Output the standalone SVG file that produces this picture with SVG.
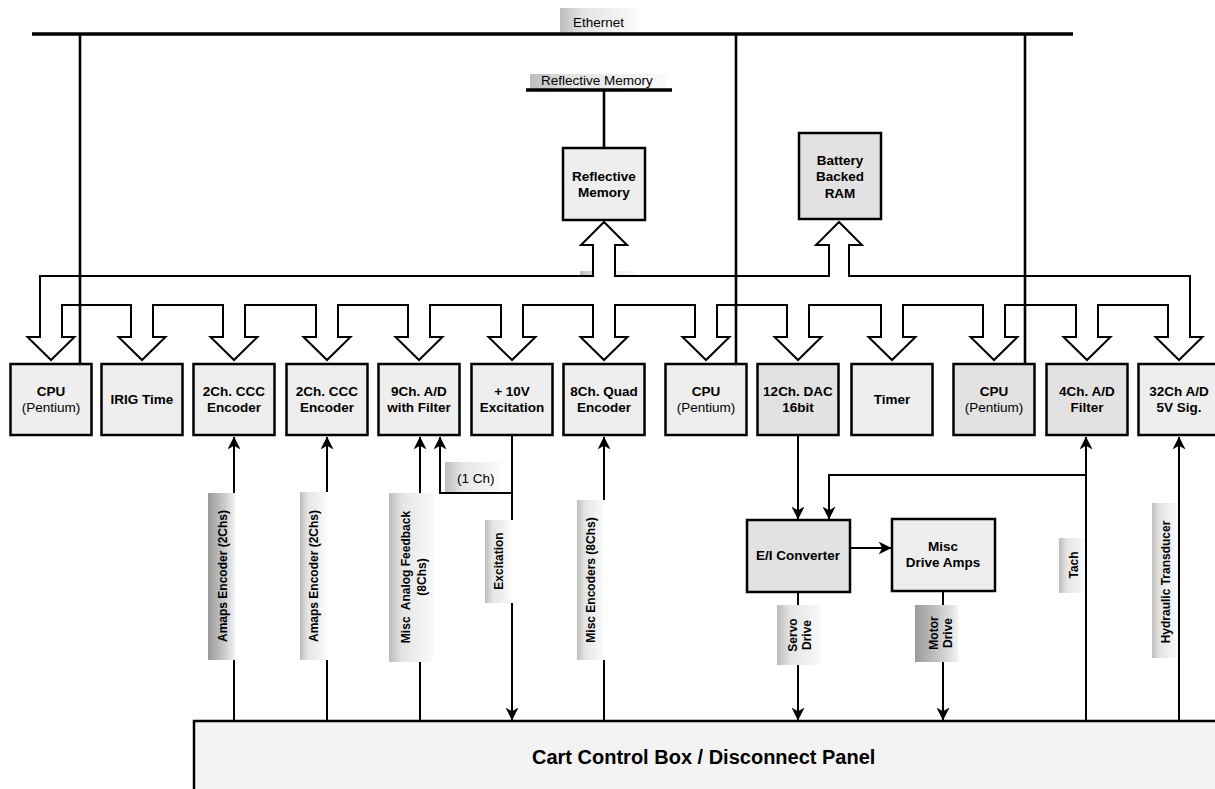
<svg xmlns="http://www.w3.org/2000/svg" width="1215" height="789" viewBox="0 0 1215 789">
<style>
text{font-family:"Liberation Sans",Arial,Helvetica,sans-serif;fill:#000}
.bt{font-size:13.5px;font-weight:bold;text-anchor:middle}
.rt{font-size:13.5px;text-anchor:middle}
.lt{font-size:12px;font-weight:bold;text-anchor:middle}
.nt{font-size:13.5px}
.box{fill:#eeeeee;stroke:#000;stroke-width:2.5}
.boxd{fill:#e2e2e2;stroke:#000;stroke-width:2.5}
.bus{fill:#fff;stroke:#000;stroke-width:2;stroke-linejoin:miter}
.net{stroke:#000;stroke-width:3.5;fill:none}
.drop{stroke:#000;stroke-width:2.6;fill:none}
.ln{stroke:#000;stroke-width:2;fill:none}
.arr{stroke:#000;stroke-width:2;fill:none;marker-end:url(#ah)}
.lab{fill:url(#gl);stroke:none}
.labd{fill:url(#gd);stroke:none}
</style>
<defs>
<marker id="ah" markerUnits="userSpaceOnUse" markerWidth="13" markerHeight="13" viewBox="0 0 12 12" refX="11.5" refY="6" orient="auto">
<path d="M0,0 L12,6 L0,12 L3.5,6 z" fill="#000"/>
</marker>
<linearGradient id="gl" x1="0" y1="0" x2="1" y2="0">
<stop offset="0" stop-color="#bdbdbd"/>
<stop offset="0.3" stop-color="#e4e4e4"/>
<stop offset="1" stop-color="#fafafa"/>
</linearGradient>
<linearGradient id="gd" x1="0" y1="0" x2="1" y2="0">
<stop offset="0" stop-color="#9a9a9a"/>
<stop offset="0.55" stop-color="#c6c6c6"/>
<stop offset="1" stop-color="#f2f2f2"/>
</linearGradient>
</defs>
<rect width="1215" height="789" fill="#fff"/>

<!-- bus labels -->
<g id="ethernet-label">
<rect class="lab" x="560" y="8" width="77" height="24"/>
<text class="nt" x="573" y="27">Ethernet</text>
</g>
<g id="reflective-bus-label">
<rect class="lab" x="530" y="74" width="137" height="15"/>
<text class="nt" x="541" y="85">Reflective Memory</text>
</g>
<g id="vme-label">
<rect class="lab" x="580" y="271" width="55" height="29"/>
<text class="nt" x="593" y="292">VME</text>
</g>

<!-- Ethernet, reflective memory bus, VME bus -->
<g id="buses">
<line class="net" x1="32" y1="34" x2="1073" y2="34"/>
<line class="net" x1="526" y1="90" x2="672" y2="90"/>
<path class="bus" d="M40,337 V276 H593 V245 H581 L604,222 L627,245 H615 V276 H829 V245 H816 L839,222 L862,245 H849 V276 H1190 V337 H1202.5 L1179,360 L1155.5,337 H1168 V305 H1098 V337 H1110.5 L1087,360 L1063.5,337 H1076 V305 H1005 V337 H1017.5 L994,360 L970.5,337 H983 V305 H903 V337 H915.5 L892,360 L868.5,337 H881 V305 H809 V337 H821.5 L798,360 L774.5,337 H787 V305 H717 V337 H729.5 L706,360 L682.5,337 H695 V305 H615 V337 H627.5 L604,360 L580.5,337 H593 V305 H523 V337 H535.5 L512,360 L488.5,337 H501 V305 H430 V337 H442.5 L419,360 L395.5,337 H408 V305 H338 V337 H350.5 L327,360 L303.5,337 H316 V305 H245 V337 H257.5 L234,360 L210.5,337 H223 V305 H153 V337 H165.5 L142,360 L118.5,337 H131 V305 H62 V337 H74.5 L51,360 L27.5,337 H40 Z"/>
</g>

<g id="connectors">
<line class="drop" x1="80" y1="34" x2="80" y2="364"/>
<line class="drop" x1="736" y1="34" x2="736" y2="364"/>
<line class="drop" x1="1025" y1="34" x2="1025" y2="364"/>
<line class="drop" x1="604" y1="90" x2="604" y2="148"/>
<!-- Amaps 1 -->
<line class="arr" x1="234" y1="493" x2="234" y2="437"/>
<line class="ln" x1="234" y1="660" x2="234" y2="721"/>
<!-- Amaps 2 -->
<line class="arr" x1="327" y1="492" x2="327" y2="437"/>
<line class="ln" x1="327" y1="660" x2="327" y2="721"/>
<!-- Misc analog -->
<line class="arr" x1="420" y1="493" x2="420" y2="437"/>
<line class="ln" x1="420" y1="662" x2="420" y2="721"/>
<!-- 1 Ch from excitation -->
<path class="arr" d="M512,493 H440 V437"/>
<!-- Excitation -->
<line class="ln" x1="512" y1="436" x2="512" y2="520"/>
<line class="arr" x1="512" y1="603" x2="512" y2="720"/>
<!-- Misc encoders -->
<line class="arr" x1="604" y1="500" x2="604" y2="437"/>
<line class="ln" x1="604" y1="660" x2="604" y2="721"/>
<!-- DAC to E/I -->
<line class="arr" x1="798" y1="436" x2="798" y2="519"/>
<!-- Tach -->
<line class="arr" x1="1086" y1="721" x2="1086" y2="437"/>
<path class="arr" d="M1086,475 H829 V519"/>
<!-- E/I to drive amps -->
<line class="arr" x1="851" y1="548" x2="891" y2="548"/>
<!-- Servo drive -->
<line class="ln" x1="798" y1="592" x2="798" y2="605"/>
<line class="arr" x1="798" y1="665" x2="798" y2="720"/>
<!-- Motor drive -->
<line class="ln" x1="943" y1="591" x2="943" y2="605"/>
<line class="arr" x1="943" y1="662" x2="943" y2="720"/>
<!-- Hydraulic -->
<line class="arr" x1="1179" y1="721" x2="1179" y2="437"/>
</g>

<g id="connector-labels">
<g id="lbl-amaps1"><rect class="labd" x="208" y="493" width="27" height="167"/>
<text class="lt" transform="translate(226.5,576) rotate(-90)">Amaps Encoder (2Chs)</text></g>
<g id="lbl-amaps2"><rect class="lab" x="300" y="492" width="26" height="168"/>
<text class="lt" transform="translate(318,576) rotate(-90)">Amaps Encoder (2Chs)</text></g>
<g id="lbl-misc-analog"><rect class="lab" x="389" y="493" width="44" height="169"/>
<text class="lt" transform="translate(410,577) rotate(-90)" xml:space="preserve">Misc  Analog Feedback</text>
<text class="lt" transform="translate(426,577) rotate(-90)">(8Chs)</text></g>
<g id="lbl-1ch"><rect class="lab" x="445" y="462" width="55" height="30"/>
<text class="nt" x="457" y="483">(1 Ch)</text></g>
<g id="lbl-excitation"><rect class="lab" x="485" y="520" width="26" height="83"/>
<text class="lt" transform="translate(503,561) rotate(-90)">Excitation</text></g>
<g id="lbl-misc-enc"><rect class="lab" x="577" y="500" width="26" height="160"/>
<text class="lt" transform="translate(595,580) rotate(-90)">Misc Encoders (8Chs)</text></g>
<g id="lbl-servo"><rect class="lab" x="777" y="605" width="44" height="60"/>
<text class="lt" transform="translate(797,635) rotate(-90)">Servo</text>
<text class="lt" transform="translate(811,635) rotate(-90)">Drive</text></g>
<g id="lbl-motor"><rect class="labd" x="915" y="605" width="43" height="57"/>
<text class="lt" transform="translate(938,633) rotate(-90)">Motor</text>
<text class="lt" transform="translate(952,633) rotate(-90)">Drive</text></g>
<g id="lbl-tach"><rect class="lab" x="1059" y="538" width="26" height="55"/>
<text class="lt" transform="translate(1078,565) rotate(-90)">Tach</text></g>
<g id="lbl-hydraulic"><rect class="lab" x="1152" y="503" width="26" height="155"/>
<text class="lt" transform="translate(1170,582) rotate(-90)">Hydraulic Transducer</text></g>
</g>

<!-- top nodes -->
<g id="reflective-memory">
<rect class="box" x="563" y="148" width="82" height="72"/>
<text class="bt" x="604" y="181">Reflective</text>
<text class="bt" x="604" y="197">Memory</text>
</g>
<g id="battery-ram">
<rect class="boxd" x="799" y="133" width="82" height="86"/>
<text class="bt" x="840" y="165">Battery</text>
<text class="bt" x="840" y="181">Backed</text>
<text class="bt" x="840" y="198">RAM</text>
</g>

<!-- module row -->
<g id="cpu1">
<rect class="box" x="10.5" y="364" width="81" height="71"/>
<text class="bt" x="51" y="396">CPU</text>
<text class="rt" x="51" y="412">(Pentium)</text>
</g>
<g id="irig">
<rect class="box" x="101.5" y="364" width="81" height="71"/>
<text class="bt" x="142" y="404">IRIG Time</text>
</g>
<g id="ccc1">
<rect class="box" x="193.5" y="364" width="81" height="71"/>
<text class="bt" x="234" y="396">2Ch. CCC</text>
<text class="bt" x="234" y="412">Encoder</text>
</g>
<g id="ccc2">
<rect class="box" x="286.5" y="364" width="81" height="71"/>
<text class="bt" x="327" y="396">2Ch. CCC</text>
<text class="bt" x="327" y="412">Encoder</text>
</g>
<g id="ad9">
<rect class="box" x="378.5" y="364" width="81" height="71"/>
<text class="bt" x="419" y="396">9Ch. A/D</text>
<text class="bt" x="419" y="412">with Filter</text>
</g>
<g id="excitation">
<rect class="box" x="471.5" y="364" width="81" height="71"/>
<text class="bt" x="512" y="396">+ 10V</text>
<text class="bt" x="512" y="412">Excitation</text>
</g>
<g id="quad">
<rect class="box" x="563.5" y="364" width="81" height="71"/>
<text class="bt" x="604" y="396">8Ch. Quad</text>
<text class="bt" x="604" y="412">Encoder</text>
</g>
<g id="cpu2">
<rect class="box" x="665.5" y="364" width="81" height="71"/>
<text class="bt" x="706" y="396">CPU</text>
<text class="rt" x="706" y="412">(Pentium)</text>
</g>
<g id="dac">
<rect class="boxd" x="757.5" y="364" width="81" height="71"/>
<text class="bt" x="798" y="396">12Ch. DAC</text>
<text class="bt" x="798" y="412">16bit</text>
</g>
<g id="timer">
<rect class="box" x="851.5" y="364" width="81" height="71"/>
<text class="bt" x="892" y="404">Timer</text>
</g>
<g id="cpu3">
<rect class="boxd" x="953.5" y="364" width="81" height="71"/>
<text class="bt" x="994" y="396">CPU</text>
<text class="rt" x="994" y="412">(Pentium)</text>
</g>
<g id="ad4">
<rect class="boxd" x="1046.5" y="364" width="81" height="71"/>
<text class="bt" x="1087" y="396">4Ch. A/D</text>
<text class="bt" x="1087" y="412">Filter</text>
</g>
<g id="ad32">
<rect class="box" x="1138.5" y="364" width="81" height="71"/>
<text class="bt" x="1179" y="396">32Ch A/D</text>
<text class="bt" x="1179" y="412">5V Sig.</text>
</g>

<g id="ei-converter">
<rect class="boxd" x="747" y="520" width="103" height="72"/>
<text class="bt" x="798" y="560">E/I Converter</text>
</g>
<g id="drive-amps">
<rect class="box" x="892" y="519" width="103" height="72"/>
<text class="bt" x="943" y="551">Misc</text>
<text class="bt" x="943" y="567">Drive Amps</text>
</g>

<g id="cart">
<rect x="194" y="721" width="1030" height="80" fill="#f3f3f3" stroke="#000" stroke-width="2.5"/>
<text x="532" y="764" style="font-size:20px;font-weight:bold">Cart Control Box / Disconnect Panel</text>
</g>
</svg>
